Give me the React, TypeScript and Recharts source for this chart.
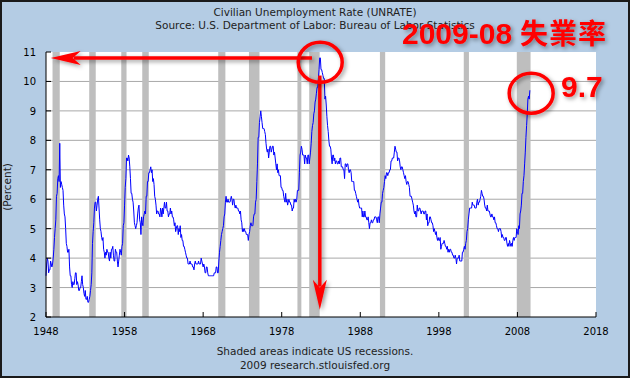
import React from 'react';
import { CartesianGrid, Line, LineChart, ReferenceArea, ReferenceDot, ReferenceLine, XAxis, YAxis } from 'recharts';

// monthly civilian unemployment rate (%), starting Jan 1948
const startYear = 1948;

const rates1948to1949 = [
  3.4, 3.8, 4.0, 3.9, 3.5, 3.6, 3.6, 3.9, 3.8, 3.7, 3.8, 4.0,
  4.3, 4.7, 5.0, 5.3, 6.1, 6.2, 6.7, 6.8, 6.6, 7.9, 6.4, 6.6,
];

const rates1950s = [
  6.5, 6.4, 6.3, 5.8, 5.5, 5.4, 5.0, 4.5, 4.4, 4.2, 4.2, 4.3,
  3.7, 3.4, 3.4, 3.1, 3.0, 3.2, 3.1, 3.1, 3.3, 3.5, 3.5, 3.1,
  3.2, 3.1, 2.9, 2.9, 3.0, 3.0, 3.2, 3.4, 3.1, 3.0, 2.8, 2.7,
  2.9, 2.6, 2.6, 2.7, 2.5, 2.5, 2.6, 2.7, 2.9, 3.1, 3.5, 4.5,
  4.9, 5.2, 5.7, 5.9, 5.9, 5.6, 5.8, 6.0, 6.1, 5.7, 5.3, 5.0,
  4.9, 4.7, 4.6, 4.7, 4.3, 4.2, 4.0, 4.2, 4.1, 4.3, 4.2, 4.2,
  4.0, 3.9, 4.2, 4.0, 4.3, 4.3, 4.4, 4.1, 3.9, 3.9, 4.3, 4.2,
  4.2, 3.9, 3.7, 3.9, 4.1, 4.3, 4.2, 4.1, 4.4, 4.5, 5.1, 5.2,
  5.8, 6.4, 6.7, 7.4, 7.4, 7.3, 7.5, 7.4, 7.1, 6.7, 6.2, 6.2,
  6.0, 5.9, 5.6, 5.2, 5.1, 5.0, 5.1, 5.2, 5.5, 5.7, 5.8, 5.3,
];

const rates1960s = [
  5.2, 4.8, 5.4, 5.2, 5.1, 5.4, 5.5, 5.6, 5.5, 6.1, 6.1, 6.6,
  6.6, 6.9, 6.9, 7.0, 7.1, 6.9, 7.0, 6.6, 6.7, 6.5, 6.1, 6.0,
  5.8, 5.5, 5.6, 5.6, 5.5, 5.5, 5.4, 5.7, 5.6, 5.4, 5.7, 5.5,
  5.7, 5.9, 5.7, 5.7, 5.9, 5.6, 5.6, 5.4, 5.5, 5.5, 5.7, 5.5,
  5.6, 5.4, 5.4, 5.3, 5.1, 5.2, 4.9, 5.0, 5.1, 5.1, 4.8, 5.0,
  4.9, 5.1, 4.7, 4.8, 4.6, 4.6, 4.4, 4.4, 4.3, 4.2, 4.1, 4.0,
  4.0, 3.8, 3.8, 3.8, 3.9, 3.8, 3.8, 3.8, 3.7, 3.7, 3.6, 3.8,
  3.9, 3.8, 3.8, 3.8, 3.8, 3.9, 3.8, 3.8, 3.8, 4.0, 3.9, 3.8,
  3.7, 3.8, 3.7, 3.5, 3.5, 3.7, 3.7, 3.5, 3.4, 3.4, 3.4, 3.4,
  3.4, 3.4, 3.4, 3.4, 3.4, 3.5, 3.5, 3.5, 3.7, 3.7, 3.5, 3.5,
];

const rates1970s = [
  3.9, 4.2, 4.4, 4.6, 4.8, 4.9, 5.0, 5.1, 5.4, 5.5, 5.9, 6.1,
  5.9, 5.9, 6.0, 5.9, 5.9, 5.9, 6.0, 6.1, 6.0, 5.8, 6.0, 6.0,
  5.8, 5.7, 5.8, 5.7, 5.7, 5.7, 5.6, 5.6, 5.5, 5.6, 5.3, 5.2,
  4.9, 5.0, 4.9, 5.0, 4.9, 4.9, 4.8, 4.8, 4.8, 4.6, 4.8, 4.9,
  5.1, 5.2, 5.1, 5.1, 5.1, 5.4, 5.5, 5.5, 5.9, 6.0, 6.6, 7.2,
  8.1, 8.1, 8.6, 8.8, 9.0, 8.8, 8.6, 8.4, 8.4, 8.4, 8.3, 8.2,
  7.9, 7.7, 7.6, 7.7, 7.4, 7.6, 7.8, 7.8, 7.6, 7.7, 7.8, 7.8,
  7.5, 7.6, 7.4, 7.2, 7.0, 7.2, 6.9, 7.0, 6.8, 6.8, 6.8, 6.4,
  6.4, 6.3, 6.3, 6.1, 6.0, 5.9, 6.2, 5.9, 6.0, 5.8, 5.9, 6.0,
  5.9, 5.9, 5.8, 5.8, 5.6, 5.7, 5.7, 6.0, 5.9, 6.0, 5.9, 6.0,
];

const rates1980s = [
  6.3, 6.3, 6.3, 6.9, 7.5, 7.6, 7.8, 7.7, 7.5, 7.5, 7.5, 7.2,
  7.5, 7.4, 7.4, 7.2, 7.5, 7.5, 7.2, 7.4, 7.6, 7.9, 8.3, 8.5,
  8.6, 8.9, 9.0, 9.3, 9.4, 9.6, 9.8, 9.8, 10.1, 10.4, 10.8, 10.8,
  10.4, 10.4, 10.3, 10.2, 10.1, 10.1, 9.4, 9.5, 9.2, 8.8, 8.5, 8.3,
  8.0, 7.8, 7.8, 7.7, 7.4, 7.2, 7.5, 7.5, 7.3, 7.4, 7.2, 7.3,
  7.3, 7.2, 7.2, 7.3, 7.2, 7.4, 7.4, 7.1, 7.1, 7.1, 7.0, 7.0,
  6.7, 7.2, 7.2, 7.1, 7.2, 7.2, 7.0, 6.9, 7.0, 7.0, 6.9, 6.6,
  6.6, 6.6, 6.6, 6.3, 6.3, 6.2, 6.1, 6.0, 5.9, 6.0, 5.8, 5.7,
  5.7, 5.7, 5.7, 5.4, 5.6, 5.4, 5.4, 5.6, 5.4, 5.4, 5.3, 5.3,
  5.4, 5.2, 5.0, 5.2, 5.2, 5.3, 5.2, 5.2, 5.3, 5.3, 5.4, 5.4,
];

const rates1990s = [
  5.4, 5.3, 5.2, 5.4, 5.4, 5.2, 5.5, 5.7, 5.9, 5.9, 6.2, 6.3,
  6.4, 6.6, 6.8, 6.7, 6.9, 6.9, 6.8, 6.9, 6.9, 7.0, 7.0, 7.3,
  7.3, 7.4, 7.4, 7.4, 7.6, 7.8, 7.7, 7.6, 7.6, 7.3, 7.4, 7.4,
  7.3, 7.1, 7.0, 7.1, 7.1, 7.0, 6.9, 6.8, 6.7, 6.8, 6.6, 6.5,
  6.6, 6.6, 6.5, 6.4, 6.1, 6.1, 6.1, 6.0, 5.9, 5.8, 5.6, 5.5,
  5.6, 5.4, 5.4, 5.8, 5.6, 5.6, 5.7, 5.7, 5.6, 5.5, 5.6, 5.6,
  5.6, 5.5, 5.5, 5.6, 5.6, 5.3, 5.5, 5.1, 5.2, 5.2, 5.4, 5.4,
  5.3, 5.2, 5.2, 5.1, 4.9, 5.0, 4.9, 4.8, 4.9, 4.7, 4.6, 4.7,
  4.6, 4.6, 4.7, 4.3, 4.4, 4.5, 4.5, 4.5, 4.6, 4.5, 4.4, 4.4,
  4.3, 4.4, 4.2, 4.3, 4.2, 4.3, 4.3, 4.2, 4.2, 4.1, 4.1, 4.0,
];

const rates2000s = [
  4.0, 4.1, 4.0, 3.8, 4.0, 4.0, 4.0, 4.1, 3.9, 3.9, 3.9, 3.9,
  4.2, 4.2, 4.3, 4.4, 4.3, 4.5, 4.6, 4.9, 5.0, 5.3, 5.5, 5.7,
  5.7, 5.7, 5.7, 5.9, 5.8, 5.8, 5.8, 5.7, 5.7, 5.7, 5.9, 6.0,
  5.8, 5.9, 5.9, 6.0, 6.1, 6.3, 6.2, 6.1, 6.1, 6.0, 5.8, 5.7,
  5.7, 5.6, 5.8, 5.6, 5.6, 5.6, 5.5, 5.4, 5.4, 5.5, 5.4, 5.4,
  5.3, 5.4, 5.2, 5.2, 5.1, 5.0, 5.0, 4.9, 5.0, 5.0, 5.0, 4.9,
  4.7, 4.8, 4.7, 4.7, 4.6, 4.6, 4.7, 4.7, 4.5, 4.4, 4.5, 4.4,
  4.6, 4.5, 4.4, 4.5, 4.4, 4.6, 4.7, 4.6, 4.7, 4.7, 4.7, 5.0,
  4.9, 4.8, 5.1, 5.0, 5.5, 5.6, 5.8, 6.2, 6.2, 6.6, 6.8, 7.2,
  7.6, 8.1, 8.5, 8.9, 9.4, 9.5, 9.4, 9.7,
];

// NBER recessions, as fractional years
const recessionStarts = [1948.83, 1953.5, 1957.58, 1960.25, 1969.92, 1973.83, 1980.0, 1981.5, 1990.5, 2001.17, 2007.92];
const recessionEnds = [1949.75, 1954.33, 1958.25, 1961.08, 1970.83, 1975.17, 1980.5, 1982.83, 1991.17, 2001.83, 2009.67];

const yearTicks = [1948, 1958, 1968, 1978, 1988, 1998, 2008, 2018];
const percentTicks = [2, 3, 4, 5, 6, 7, 8, 9, 10, 11];
const gridValues = [3, 4, 5, 6, 7, 8, 9, 10];

const allRates = [...rates1948to1949, ...rates1950s, ...rates1960s, ...rates1970s, ...rates1980s, ...rates1990s, ...rates2000s];
const data = allRates.map((rate, i) => ({ t: startYear + i / 12, rate }));

const FONT = '"DejaVu Sans", Verdana, sans-serif';
const RED = '#ff0000';

const XTick = ({ x, y, payload }: any) => (
  <g>
    <line x1={x} y1={y} x2={x} y2={y - 5} stroke="#000" />
    <text x={x} y={y + 18} textAnchor="middle" fontFamily={FONT} fontSize={10} fill="#000">
      {payload.value}
    </text>
  </g>
);

const YTick = ({ x, y, payload }: any) => (
  <g>
    <line x1={x} y1={y} x2={x + 5} y2={y} stroke="#000" />
    <text x={x - 10} y={y + 4} textAnchor="end" fontFamily={FONT} fontSize={10} fill="#000">
      {payload.value}
    </text>
  </g>
);

const Arrow = (p: any) => {
  const { x1, y1, x2, y2 } = p;
  const dx = x2 - x1;
  const dy = y2 - y1;
  const len = Math.hypot(dx, dy) || 1;
  const ux = dx / len;
  const uy = dy / len;
  const hl = 27;
  const hw = 7;
  const bx = x2 - ux * hl;
  const by = y2 - uy * hl;
  const nx = -uy;
  const ny = ux;
  return (
    <g filter="url(#redShadow)">
      <line x1={x1} y1={y1} x2={bx + ux * 4} y2={by + uy * 4} stroke={RED} strokeWidth={3.5} />
      <polygon
        points={`${x2},${y2} ${bx + nx * hw - ux * 3},${by + ny * hw - uy * 3} ${bx + ux * 5},${by + uy * 5} ${bx - nx * hw - ux * 3},${by - ny * hw - uy * 3}`}
        fill={RED}
      />
    </g>
  );
};

const Ring = (p: any) => (
  <ellipse cx={p.cx} cy={p.cy} rx={22} ry={20} fill="none" stroke={RED} strokeWidth={3.5} filter="url(#redShadow)" />
);

export default function App() {
  return (
    <div style={{ position: 'absolute', left: 0, top: 0, width: 630, height: 378, background: '#b4cce4' }}>
      <style>{'body{margin:0}'}</style>
      <svg width={0} height={0} style={{ position: 'absolute' }}>
        <defs>
          <filter id="redShadow" x="-50%" y="-50%" width="200%" height="200%">
            <feDropShadow dx={2} dy={2} stdDeviation={2} floodColor="#000" floodOpacity={0.4} />
          </filter>
        </defs>
      </svg>
      <div style={{ position: 'absolute', left: 0, top: 0 }}>
        <LineChart width={630} height={378} data={data} margin={{ top: 52, right: 34, bottom: 41, left: 16 }}>
          <CartesianGrid vertical={false} horizontalValues={gridValues} stroke="#a8a8a8" fill="#ffffff" />
          {recessionStarts.map((s, i) => (
            <ReferenceArea key={s} x1={s} x2={recessionEnds[i]} fill="#bebebe" fillOpacity={1} strokeOpacity={0} />
          ))}
          <XAxis
            dataKey="t"
            type="number"
            domain={[1948, 2018]}
            ticks={yearTicks}
            tickSize={0}
            tickMargin={0}
            height={20}
            stroke="#000"
            tick={<XTick />}
          />
          <YAxis
            type="number"
            domain={[2, 11]}
            ticks={percentTicks}
            tickSize={0}
            tickMargin={0}
            width={30}
            stroke="#000"
            tick={<YTick />}
          />
          <Line dataKey="rate" type="linear" stroke="#0000ff" strokeWidth={1} dot={false} isAnimationActive={false} />
          <ReferenceLine segment={[{ x: 1981.85, y: 10.8 }, { x: 1948.6, y: 10.8 }]} shape={<Arrow />} ifOverflow="visible" />
          <ReferenceLine segment={[{ x: 1982.85, y: 10.2 }, { x: 1982.85, y: 2.25 }]} shape={<Arrow />} ifOverflow="visible" />
          <ReferenceDot x={1982.9} y={10.65} shape={<Ring />} ifOverflow="visible" />
          <ReferenceDot x={2009.75} y={9.6} shape={<Ring />} ifOverflow="visible" />
        </LineChart>
      </div>
      <svg width={630} height={378} style={{ position: 'absolute', left: 0, top: 0, pointerEvents: 'none' }}>
        <text x={315} y={16} textAnchor="middle" fontFamily={FONT} fontSize={10.5} fill="#222">
          Civilian Unemployment Rate (UNRATE)
        </text>
        <text x={315} y={29} textAnchor="middle" fontFamily={FONT} fontSize={10.5} fill="#222">
          Source: U.S. Department of Labor: Bureau of Labor Statistics
        </text>
        <text x={315} y={355} textAnchor="middle" fontFamily={FONT} fontSize={10.5} fill="#222">
          Shaded areas indicate US recessions.
        </text>
        <text x={315} y={369} textAnchor="middle" fontFamily={FONT} fontSize={10.5} fill="#222">
          2009 research.stlouisfed.org
        </text>
        <text x={11} y={187} textAnchor="middle" fontFamily={FONT} fontSize={10.5} fill="#222" transform="rotate(-90 11 187)">
          (Percent)
        </text>
        <text x={402} y={44} fontFamily='"Liberation Sans", "Noto Sans CJK TC", sans-serif' fontWeight="bold" fontSize={30} fill={RED} filter="url(#redShadow)">
          2009-08<tspan fontFamily='"Noto Sans CJK TC", sans-serif' fontSize={28} dx={8} letterSpacing={1}>失業率</tspan>
        </text>
        <text x={561} y={97} fontFamily='"Liberation Sans", sans-serif' fontWeight="bold" fontSize={30} fill={RED} filter="url(#redShadow)">
          9.7
        </text>
      </svg>
      <div style={{ position: 'absolute', left: 0, top: 0, width: 630, height: 378, border: '2px solid #1a1a1a', boxSizing: 'border-box', pointerEvents: 'none' }} />
    </div>
  );
}
